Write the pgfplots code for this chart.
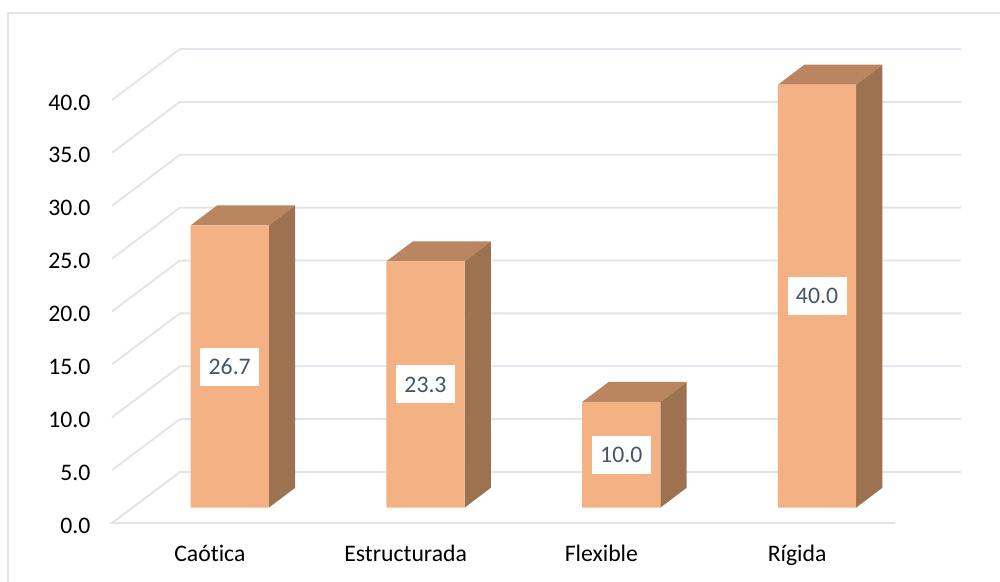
\documentclass[border=0pt]{standalone}
\usepackage{fontspec}
\setmainfont[Ligatures=NoCommon]{Carlito}
\usepackage{pgfplots}
\pgfplotsset{compat=1.18}
\definecolor{gridc}{HTML}{E1E4EC}
\definecolor{front}{HTML}{F4B183}
\definecolor{sidec}{HTML}{9D7251}
\definecolor{topc}{HTML}{BA8561}
\definecolor{labc}{HTML}{44546A}
\begin{document}
\begin{tikzpicture}[x=1bp,y=1bp]
  \path[use as bounding box] (0,0) rectangle (1000,582);
  % marco exterior
  \draw[gridc,line width=1.9bp] (8,0) -- (8,569) -- (1000,569);
  \begin{axis}[
    at={(112bp,59bp)}, anchor=south west,
    scale only axis,
    width=783bp, height=423bp,
    xmin=-0.5, xmax=3.5,
    ymin=0, ymax=40,
    clip=false,
    axis lines=left,
    axis line style={draw=none},
    major tick length=0pt,
    xtick={0,1,2,3},
    xticklabels={Caótica,Estructurada,Flexible,Rígida},
    ytick={0,5,10,15,20,25,30,35,40},
    /pgf/number format/assume math mode=true,
    /pgf/number format/fixed,
    /pgf/number format/fixed zerofill,
    /pgf/number format/precision=1,
    tick label style={font=\fontsize{23.8}{28}\selectfont},
    yticklabel style={xshift=-18bp,yshift=-2.5bp},
    xticklabel style={yshift=-19bp},
  ]
  % lineas de pared y piso
  \addplot[gridc,line width=1.9bp] coordinates {(3.5,0) (-0.5,0) (-0.153,4.82) (3.837,4.82)};
  \addplot[gridc,line width=1.9bp] coordinates {(-0.5,5) (-0.153,9.82) (3.837,9.82)};
  \addplot[gridc,line width=1.9bp] coordinates {(-0.5,10) (-0.153,14.82) (3.837,14.82)};
  \addplot[gridc,line width=1.9bp] coordinates {(-0.5,15) (-0.153,19.82) (3.837,19.82)};
  \addplot[gridc,line width=1.9bp] coordinates {(-0.5,20) (-0.153,24.82) (3.837,24.82)};
  \addplot[gridc,line width=1.9bp] coordinates {(-0.5,25) (-0.153,29.82) (3.837,29.82)};
  \addplot[gridc,line width=1.9bp] coordinates {(-0.5,30) (-0.153,34.82) (3.837,34.82)};
  \addplot[gridc,line width=1.9bp] coordinates {(-0.5,35) (-0.153,39.82) (3.837,39.82)};
  \addplot[gridc,line width=1.9bp] coordinates {(-0.5,40) (-0.153,44.82) (3.837,44.82)};

  % caras laterales
  \addplot[fill=sidec,draw=none] coordinates {(0.301,1.447) (0.436,3.337) (0.436,30.037) (0.301,28.147)};
  \addplot[fill=sidec,draw=none] coordinates {(1.301,1.447) (1.436,3.337) (1.436,26.637) (1.301,24.747)};
  \addplot[fill=sidec,draw=none] coordinates {(2.301,1.447) (2.436,3.337) (2.436,13.337) (2.301,11.447)};
  \addplot[fill=sidec,draw=none] coordinates {(3.301,1.447) (3.436,3.337) (3.436,43.337) (3.301,41.447)};

  % caras superiores
  \addplot[fill=topc,draw=none] coordinates {(-0.098,28.147) (0.301,28.147) (0.436,30.037) (0.037,30.037)};
  \addplot[fill=topc,draw=none] coordinates {(0.902,24.747) (1.301,24.747) (1.436,26.637) (1.037,26.637)};
  \addplot[fill=topc,draw=none] coordinates {(1.902,11.447) (2.301,11.447) (2.436,13.337) (2.037,13.337)};
  \addplot[fill=topc,draw=none] coordinates {(2.902,41.447) (3.301,41.447) (3.436,43.337) (3.037,43.337)};

  % frente de las barras
  \addplot[ybar,bar width=78.2bp,bar shift=19.9bp,yshift=15.3bp,fill=front,draw=none]
    coordinates {(0,26.7) (1,23.3) (2,10.0) (3,40.0)};

  % etiquetas
  \addplot[draw=none,mark=none,point meta=explicit symbolic,
    nodes near coords,
    every node near coord/.append style={anchor=center,fill=white,text=labc,
      font=\fontsize{23.8}{28}\selectfont,inner sep=0pt,
      minimum width=59bp,minimum height=38bp}]
    coordinates {(0.1015,14.797) [26.7] (1.1015,13.097) [23.3] (2.1015,6.447) [10.0] (3.1015,21.447) [40.0]};
  \end{axis}
\end{tikzpicture}
\end{document}
